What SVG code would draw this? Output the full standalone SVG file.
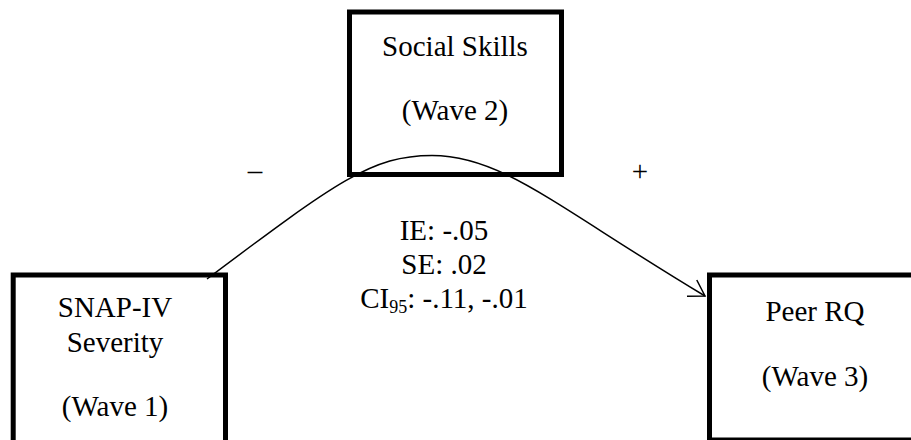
<svg xmlns="http://www.w3.org/2000/svg" width="911" height="440" viewBox="0 0 911 440">
<style>
.box{fill:none;stroke:#000;stroke-width:5}
.t{font-family:"Liberation Serif","Times New Roman",serif;font-size:29px;fill:#000;text-anchor:middle}
.edge{fill:none;stroke:#000;stroke-width:1.5}
</style>
<defs>
<marker id="arr" markerUnits="userSpaceOnUse" markerWidth="20" markerHeight="22" refX="16" refY="10.5" orient="auto" overflow="visible">
<path d="M0.7,1 L16,10.5 L0.7,20" fill="none" stroke="#000" stroke-width="1.5"/>
</marker>
</defs>
<rect width="911" height="440" fill="#fff"/>
<g id="connectors">
<path class="edge" d="M207,279 C337,181.5 372,155.5 432,155.5 C502,155.5 555,206 705,296" marker-end="url(#arr)"/>
<text class="t" x="255" y="180">–</text>
<text class="t" x="640" y="181">+</text>
<text class="t" x="444" y="240">IE: -.05</text>
<text class="t" x="444" y="274">SE: .02</text>
<text class="t" x="444" y="308">CI<tspan font-size="18" dy="5">95</tspan><tspan dy="-5">: -.11, -.01</tspan></text>
</g>
<g id="social">
<rect class="box" x="349.5" y="12" width="212" height="162.5"/>
<text class="t" x="455" y="56">Social Skills</text>
<text class="t" x="455" y="120">(Wave 2)</text>
</g>
<g id="snap">
<rect class="box" x="13.2" y="275" width="212.3" height="180"/>
<text class="t" x="115" y="317">SNAP-IV</text>
<text class="t" x="115" y="352">Severity</text>
<text class="t" x="115" y="416">(Wave 1)</text>
</g>
<g id="peer">
<rect class="box" x="709.5" y="275" width="260" height="165"/>
<text class="t" x="815" y="321">Peer RQ</text>
<text class="t" x="815" y="386">(Wave 3)</text>
</g>
</svg>
